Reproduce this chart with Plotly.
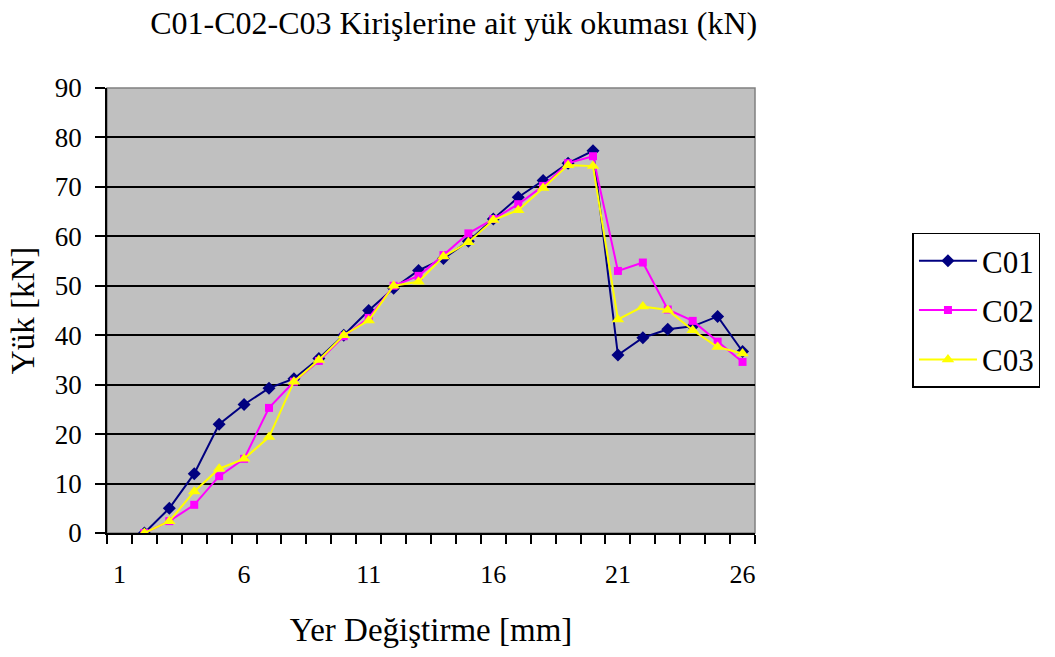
import plotly.graph_objects as go

# Displacement steps (category positions on the x axis)
steps = list(range(2, 27))

c01 = [0, 5, 12, 22, 26, 29.3, 31.2, 35.3, 40, 45, 49.5, 53.1, 55.5, 59, 63.5,
       67.9, 71.3, 74.8, 77.3, 36, 39.5, 41.2, 41.8, 43.8, 36.7]
c02 = [0, 2.4, 5.7, 11.5, 15, 25.3, 30.6, 34.8, 39.8, 43.5, 50, 52, 56.2, 60.6,
       63.5, 66.5, 70.2, 74.8, 76.2, 53, 54.7, 45.2, 42.9, 38.7, 34.6]
c03 = [0, 2.4, 8.4, 13, 15, 19.4, 30.6, 35, 40, 43, 50, 50.8, 55.9, 58.8, 63.3,
       65.3, 69.8, 74.4, 74.2, 43.2, 45.8, 45.1, 41, 37.6, 36.3]

x_ticks = [1, 6, 11, 16, 21, 26]
y_ticks = list(range(0, 91, 10))

SERIF = "Liberation Serif"

fig = go.Figure()
fig.add_trace(go.Scatter(
    x=steps, y=c01, name="C01", mode="lines+markers", legendgroup="a",
    line=dict(color="#000080", width=2),
    marker=dict(symbol="diamond", size=10, color="#000080")))
fig.add_trace(go.Scatter(
    x=steps, y=c02, name="C02", mode="lines+markers", legendgroup="b",
    line=dict(color="#FF00FF", width=2),
    marker=dict(symbol="square", size=8, color="#FF00FF")))
fig.add_trace(go.Scatter(
    x=steps, y=c03, name="C03", mode="lines+markers", legendgroup="c",
    line=dict(color="#FFFF00", width=2),
    marker=dict(symbol="triangle-up", size=11, color="#FFFF00")))

fig.update_layout(
    width=1055, height=657,
    margin=dict(l=107, r=300, t=88, b=124),
    paper_bgcolor="white",
    plot_bgcolor="#C0C0C0",
    font=dict(family=SERIF, color="black", size=20),
    title=dict(text="C01-C02-C03 Kirişlerine ait yük okuması (kN)",
               x=0.43, xanchor="center", y=0.965, yanchor="middle",
               font=dict(size=32, family=SERIF, color="black")),
    showlegend=True,
    legend=dict(x=1.243, xanchor="left", y=0.675, yanchor="top",
                bgcolor="white", bordercolor="black", borderwidth=1.5,
                font=dict(size=31, family=SERIF, color="black"),
                traceorder="grouped", tracegroupgap=6,
                itemwidth=58),
)

fig.update_xaxes(
    range=[0.5, 26.5], tickmode="array", tickvals=x_ticks,
    ticktext=[str(v) for v in x_ticks],
    ticks="outside", ticklen=17, tickcolor="rgba(0,0,0,0)",
    showgrid=False, zeroline=False, showline=True, linecolor="black",
    linewidth=1.5,
    tickfont=dict(size=26, family=SERIF, color="black"),
    minor=dict(tickmode="linear", tick0=0.5, dtick=1, ticks="outside",
               ticklen=9, tickcolor="black", tickwidth=1.5, showgrid=False),
    title=dict(text="Yer Değiştirme [mm]",
               font=dict(size=33, family=SERIF, color="black"), standoff=30),
)
fig.update_yaxes(
    range=[0, 90], tickmode="array", tickvals=y_ticks,
    ticks="outside", ticklen=10, tickcolor="black", tickwidth=1.5,
    ticklabelstandoff=8,
    showgrid=True, gridcolor="black", gridwidth=2,
    zeroline=False, showline=True, linecolor="black", linewidth=1.5,
    tickfont=dict(size=27, family=SERIF, color="black"),
    title=dict(text="Yük [kN]",
               font=dict(size=33, family=SERIF, color="black"), standoff=10),
)

# Thin gray frame on the top and right of the plotting area
fig.add_shape(type="rect", xref="paper", yref="paper", x0=0, y0=0, x1=1, y1=1,
              line=dict(color="#808080", width=1.5), layer="below")

fig.write_html("out.html")
